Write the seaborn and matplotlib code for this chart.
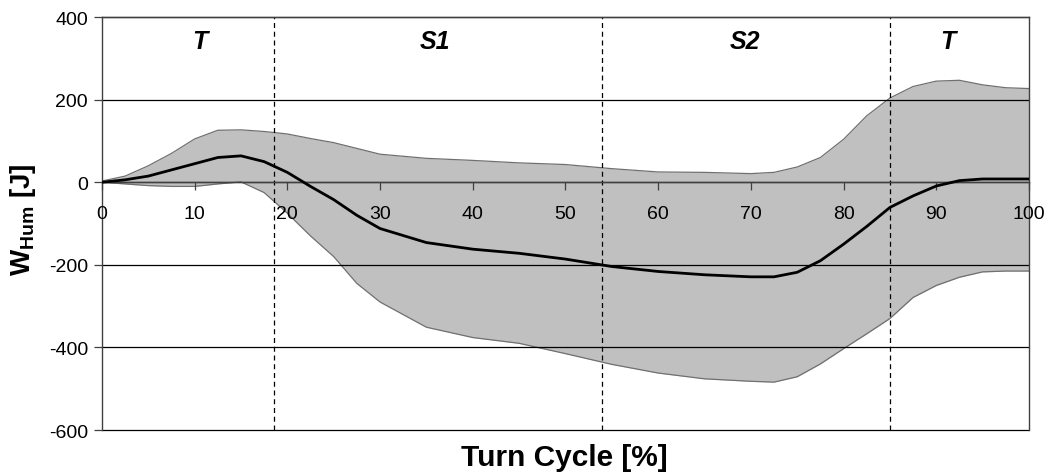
import matplotlib
matplotlib.use("Agg")
import matplotlib.pyplot as plt
import seaborn as sns
import numpy as np
import pandas as pd

# ---- data ----
cycle = [0, 2.5, 5, 7.5, 10, 12.5, 15, 17.5, 20, 22.5, 25, 27.5, 30, 35, 40, 45, 50,
         55, 60, 65, 70, 72.5, 75, 77.5, 80, 82.5, 85, 87.5, 90, 92.5, 95, 97.5, 100]
mean_w = [0, 6, 15, 30, 45, 60, 64, 50, 24, -10, -42, -80, -112, -146, -162, -172, -186,
          -204, -216, -224, -229, -229, -218, -190, -150, -107, -61, -33, -9, 4, 8, 8, 8]
upper_w = [3, 15, 40, 70, 105, 126, 127, 123, 117, 106, 96, 82, 68, 58, 53, 47, 43,
           33, 25, 24, 21, 24, 37, 60, 104, 161, 204, 232, 245, 247, 236, 229, 227]
lower_w = [0, -4, -8, -10, -10, -4, 1, -25, -75, -130, -180, -245, -290, -351, -376, -390, -415,
           -441, -462, -476, -482, -484, -471, -440, -403, -367, -330, -279, -250, -230, -217, -215, -215]
phase_bounds = [18.6, 53.9, 85.0]
phase_labels = ["T", "S1", "S2", "T"]
phase_label_x = [10.6, 35.9, 69.4, 91.3]
x_ticks = [0, 10, 20, 30, 40, 50, 60, 70, 80, 90, 100]
y_ticks = [-600, -400, -200, 0, 200, 400]

df = pd.DataFrame({"cycle": cycle, "mean": mean_w, "upper": upper_w, "lower": lower_w})

sns.set_style("white")
plt.rcParams["font.family"] = ["Liberation Sans", "DejaVu Sans"]
plt.rcParams["mathtext.fontset"] = "custom"
plt.rcParams["mathtext.rm"] = "Liberation Sans"
plt.rcParams["mathtext.bf"] = "Liberation Sans:bold"
plt.rcParams["axes.unicode_minus"] = False
plt.rcParams["text.color"] = "black"
plt.rcParams["xtick.color"] = "#404040"
plt.rcParams["ytick.color"] = "#404040"
plt.rcParams["xtick.labelcolor"] = "black"
plt.rcParams["ytick.labelcolor"] = "black"
plt.rcParams["xtick.bottom"] = True
plt.rcParams["ytick.left"] = True

fig = plt.figure(figsize=(10.51, 4.77), dpi=100)
ax = fig.add_axes([0.097, 0.0964, 0.882, 0.8656])

ax.fill_between(df["cycle"], df["lower"], df["upper"], color="#c0c0c0", lw=0, zorder=1)
sns.lineplot(data=df, x="cycle", y="upper", ax=ax, color="#707070", lw=0.9, zorder=2)
sns.lineplot(data=df, x="cycle", y="lower", ax=ax, color="#707070", lw=0.9, zorder=2)
sns.lineplot(data=df, x="cycle", y="mean", ax=ax, color="black", lw=2, zorder=4)

for b in phase_bounds:
    ax.axvline(b, color="black", ls=(0, (4, 3)), lw=0.9, zorder=3)

for lab, xp in zip(phase_labels, phase_label_x):
    ax.text(xp, 342, lab, ha="center", va="center", fontsize=18, color="black",
            fontweight="bold", fontstyle="italic", zorder=5)

ax.set_xlim(0, 100)
ax.set_ylim(-600, 400)
ax.set_xticks(x_ticks)
ax.set_yticks(y_ticks)
for yv in y_ticks:
    ax.axhline(yv, color="black", lw=0.9, zorder=3, clip_on=False)

ax.set_axisbelow(False)
ax.xaxis.set_zorder(3.5)
ax.yaxis.set_zorder(3.5)
ax.spines["bottom"].set_position(("data", 0))
for s in ["left", "right", "bottom", "top"]:
    ax.spines[s].set_color("#404040")
    ax.spines[s].set_linewidth(1.0)
    ax.spines[s].set_zorder(3.5)
ax.tick_params(axis="x", direction="out", length=6, width=0.9, pad=10, labelsize=14)
ax.tick_params(axis="y", direction="out", length=6, width=0.9, pad=4, labelsize=14)

ax.set_xlabel("")
ax.set_ylabel("")
fig.text(0.537, 0.04, "Turn Cycle [%]", ha="center", va="center", fontsize=21.5,
         fontweight="bold", color="black")
fig.text(0.022, 0.539, r"$\mathbf{W_{Hum}}$ [J]", ha="center", va="center", rotation=90,
         fontsize=20, fontweight="bold", color="black")

fig.savefig("out.png", dpi=100)
